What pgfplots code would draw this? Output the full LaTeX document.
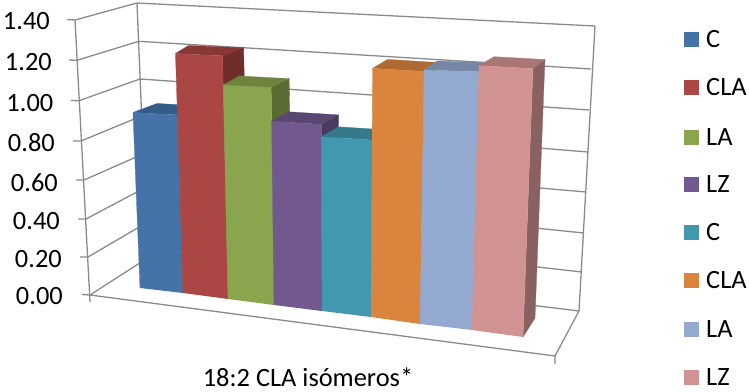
\documentclass[border=0pt]{standalone}
\usepackage{fontspec}
\setmainfont{Carlito}
\usepackage{pgfplots}
\pgfplotsset{compat=1.18}

% bar colours: front face, top face, side face
\definecolor{b1}{HTML}{4573A7}\definecolor{b1top}{HTML}{335C87}\definecolor{b1side}{HTML}{2B4C70}
\definecolor{b2}{HTML}{AA4643}\definecolor{b2top}{HTML}{883736}\definecolor{b2side}{HTML}{6F2D2B}
\definecolor{b3}{HTML}{89A54E}\definecolor{b3top}{HTML}{6D833E}\definecolor{b3side}{HTML}{5A6C33}
\definecolor{b4}{HTML}{71588F}\definecolor{b4top}{HTML}{5A4672}\definecolor{b4side}{HTML}{4A3A5E}
\definecolor{b5}{HTML}{4198AF}\definecolor{b5top}{HTML}{34798C}\definecolor{b5side}{HTML}{2B6473}
\definecolor{b6}{HTML}{DB843D}\definecolor{b6top}{HTML}{AF6A31}\definecolor{b6side}{HTML}{905727}
\definecolor{b7}{HTML}{93A9CF}\definecolor{b7top}{HTML}{7587A5}\definecolor{b7side}{HTML}{617088}
\definecolor{b8}{HTML}{D19392}\definecolor{b8top}{HTML}{A77675}\definecolor{b8side}{HTML}{896160}
\definecolor{gridgray}{HTML}{8A8A8A}
\pgfplotsset{wall/.style={gridgray,line width=1.3pt}}

% #1 colour, #2 #3 lower left corner, #4 #5 lower right corner,
% #6 value, #7 #8 depth shift of the left and right top edges, #9 rise of the top face
\newcommand{\threedbar}[9]{%
  \pgfmathsetmacro\barHl{(195+26*(#2-140)/383)*#6}%
  \pgfmathsetmacro\barHr{(195+26*(#4-140)/383)*#6}%
  \pgfmathsetmacro\xTl{#2+(-0.04+0.077*(#2-140)/383)*\barHl}%
  \pgfmathsetmacro\xTr{#4+(-0.04+0.077*(#4-140)/383)*\barHr}%
  \pgfmathsetmacro\yTl{#3-\barHl}%
  \pgfmathsetmacro\yTr{#5-\barHr}%
  \pgfmathsetmacro\xBl{\xTl+#7}%
  \pgfmathsetmacro\xBr{\xTr+#8}%
  \pgfmathsetmacro\yBl{\yTl-#9}%
  \pgfmathsetmacro\yBr{\yTr-#9}%
  \pgfmathsetmacro\xFoot{#4+#8}%
  \pgfmathsetmacro\yFoot{#5-19}%
  \edef\barfaces{%
    \noexpand\addplot[draw=#1side,line width=0.3pt,fill=#1side] coordinates
      {(\xTr,\yTr) (\xBr,\yBr) (\xFoot,\yFoot) (#4,#5)};
    \noexpand\addplot[draw=#1top,line width=0.3pt,fill=#1top] coordinates
      {(\xTl,\yTl) (\xBl,\yBl) (\xBr,\yBr) (\xTr,\yTr)};
    \noexpand\addplot[draw=#1,line width=0.3pt,fill=#1] coordinates
      {(#2,#3) (\xTl,\yTl) (\xTr,\yTr) (#4,#5)};
  }%
  \barfaces
}
\newcommand{\legendkey}[3]{%
  \pgfmathsetmacro\keyTop{#2-7.5}%
  \pgfmathsetmacro\keyBot{#2+7.5}%
  \edef\keyface{%
    \noexpand\addplot[draw=none,fill=#1] coordinates
      {(684,\keyTop) (699,\keyTop) (699,\keyBot) (684,\keyBot)};
  }%
  \keyface
  \node[anchor=west,inner sep=0pt] at (axis cs:706,#2) {\chartfont #3};
}
\newcommand{\chartfont}{\fontsize{26.5}{26.5}\selectfont}
\newcommand{\ylab}[3]{\node[anchor=east,inner sep=0pt] at (axis cs:#1,#2) {\chartfont #3};}

\begin{document}
\begin{tikzpicture}
\begin{axis}[
  x=1bp, y=1bp,
  xmin=0, xmax=749, ymin=0, ymax=391,
  y dir=reverse,
  hide axis,
  clip=false,
]
\coordinate (pagetl) at (axis cs:0,0);
\coordinate (pagebr) at (axis cs:749,391);
% back wall
\addplot[wall] coordinates {(137,3) (595,26)};
\addplot[wall] coordinates {(138.7,41.3) (591,69)};
\addplot[wall] coordinates {(140,79) (589,110)};
\addplot[wall] coordinates {(141.5,116) (588,152)};
\addplot[wall] coordinates {(143,154) (586,192)};
\addplot[wall] coordinates {(144.5,188) (584,233)};
\addplot[wall] coordinates {(146,223) (582,272)};
\addplot[wall] coordinates {(147.5,258) (579,311)};
\addplot[wall] coordinates {(137,3) (147.5,258)};
\addplot[wall] coordinates {(595,26) (579,311)};
% side wall with its ticks
\addplot[wall] coordinates {(67,19.5) (75,20) (137,3)};
\addplot[wall] coordinates {(69,60) (77,60.3) (138.7,41.3)};
\addplot[wall] coordinates {(71,100.5) (79,100.7) (140,79)};
\addplot[wall] coordinates {(73,141) (81,141) (141.5,116)};
\addplot[wall] coordinates {(76,180) (84,180) (143,154)};
\addplot[wall] coordinates {(78,219) (86,219) (144.5,188)};
\addplot[wall] coordinates {(80,257) (88,257) (146,223)};
\addplot[wall] coordinates {(82,294.5) (90,295) (147.5,258)};
\addplot[wall] coordinates {(75,20) (90,302)};
% floor
\addplot[wall] coordinates {(90,295) (555,356) (555,364)};
\addplot[wall] coordinates {(579,311) (555,356)};
% bars, left to right
\threedbar{b1}{140}{288}{183}{293}{0.90}{24}{24}{9}
\threedbar{b2}{183}{293}{228}{299}{1.21}{13}{21}{8}
\threedbar{b3}{228}{299}{274}{305}{1.065}{16}{18}{9}
\threedbar{b4}{274}{305}{322}{311}{0.90}{17}{17}{9.5}
\threedbar{b5}{322}{311}{371}{317}{0.84}{17}{17}{10}
\threedbar{b6}{371}{317}{420}{324}{1.18}{15}{13}{9}
\threedbar{b7}{420}{324}{472}{330}{1.187}{13}{11}{9}
\threedbar{b8}{472}{330}{523}{337}{1.215}{15}{12}{9}
% value axis labels
\ylab{50}{21}{1.40}
\ylab{52}{62}{1.20}
\ylab{53.5}{103}{1.00}
\ylab{55}{143}{0.80}
\ylab{58}{183}{0.60}
\ylab{60}{221}{0.40}
\ylab{62}{259}{0.20}
\ylab{63}{296}{0.00}
% category label
\node[anchor=base,inner sep=0pt] at (axis cs:308,386) {\chartfont 18:2 CLA isómeros*};
% legend
\legendkey{b1}{39}{C}
\legendkey{b2}{87}{CLA}
\legendkey{b3}{137}{LA}
\legendkey{b4}{184}{LZ}
\legendkey{b5}{232}{C}
\legendkey{b6}{280}{CLA}
\legendkey{b7}{329}{LA}
\legendkey{b8}{377}{LZ}
\end{axis}
\pgfresetboundingbox
\path[use as bounding box] (pagetl) rectangle (pagebr);
\end{tikzpicture}
\end{document}
